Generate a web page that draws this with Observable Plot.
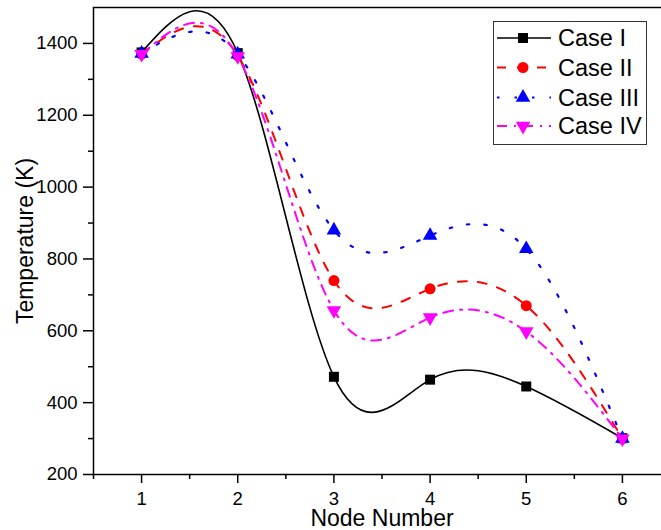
<!DOCTYPE html>
<html>
<head>
<meta charset="utf-8">
<script src="https://cdn.jsdelivr.net/npm/d3@7"></script>
<script src="https://cdn.jsdelivr.net/npm/@observablehq/plot@0.6"></script>
<style>
  html, body { margin: 0; padding: 0; background: white; overflow: hidden; }
  #wrap { position: relative; width: 661px; height: 530px; overflow: hidden; }
  #wrap > svg { max-width: none !important; }
  #legend { position: absolute; left: 493px; top: 21px; }
</style>
</head>
<body>
<div id="wrap"></div>
<script>
// ---- data ----
const nodes = [1, 2, 3, 4, 5, 6];
const caseI   = [1375, 1373, 472, 464, 445, 301];
const caseII  = [1370, 1366, 740, 717, 670, 300];
const caseIII = [1372, 1370, 880, 865, 828, 300];
const caseIV  = [1370, 1364, 657, 637, 598, 300];
const seriesNames = ["Case I", "Case II", "Case III", "Case IV"];
const yTicks = [200, 400, 600, 800, 1000, 1200, 1400];
const yMinor = [300, 500, 700, 900, 1100, 1300];
const xTicks = [1, 2, 3, 4, 5, 6];
const xMinor = [0.5, 1.5, 2.5, 3.5, 4.5, 5.5, 6.5];

const triangleDown = {
  draw(context, size) {
    const s3 = Math.sqrt(3);
    const y = -Math.sqrt(size / (s3 * 3));
    context.moveTo(0, -y * 2);
    context.lineTo(-s3 * y, y);
    context.lineTo(s3 * y, y);
    context.closePath();
  }
};

const styles = [
  {color: "#000000", dash: null,        width: 1.6, symbol: d3.symbolSquare,   r: 5.64},
  {color: "#FF0000", dash: "9,11",      width: 2,   symbol: d3.symbolCircle,   r: 5.5},
  {color: "#0000FF", dash: "2.5,15",    width: 2.2, symbol: d3.symbolTriangle, r: 5.4},
  {color: "#FF00FF", dash: "10,7,2,7",  width: 2,   symbol: triangleDown,      r: 5.4}
];
const allValues = [caseI, caseII, caseIII, caseIV];
const tables = allValues.map((vals, i) => nodes.map((n, j) => ({node: n, value: vals[j], series: seriesNames[i]})));

const font = "'Liberation Sans', Arial, sans-serif";

const seriesMarks = [];
tables.forEach((t, i) => {
  const s = styles[i];
  seriesMarks.push(Plot.line(t, {x: "node", y: "value", curve: "natural", stroke: s.color,
    strokeWidth: s.width, strokeDasharray: s.dash ?? undefined}));
  seriesMarks.push(Plot.dot(t, {x: "node", y: "value", symbol: s.symbol, r: s.r, fill: s.color, stroke: "none"}));
});

const chart = Plot.plot({
  width: 672,
  height: 530,
  marginLeft: 93,
  marginRight: 2,
  marginTop: 7,
  marginBottom: 56,
  x: {domain: [0.5, 6.5], label: null},
  y: {domain: [200, 1500], label: null},
  style: {fontFamily: font, background: "white", color: "black", overflow: "visible", maxWidth: "none"},
  marks: [
    Plot.axisY(yTicks, {tickSize: 10, tickPadding: 6, fontSize: 18.5, strokeWidth: 1.5, label: null, tickFormat: d => String(d)}),
    Plot.axisY(yMinor, {tickSize: 5, strokeWidth: 1.5, text: null, label: null}),
    Plot.axisX(xTicks, {tickSize: 9, tickPadding: 8.5, fontSize: 18.5, strokeWidth: 1.5, label: null, tickFormat: d => String(d)}),
    Plot.axisX(xMinor, {tickSize: 5, strokeWidth: 1.5, text: null, label: null}),
    Plot.frame({stroke: "black", strokeWidth: 1.5}),
    Plot.text(["Temperature (K)"], {frameAnchor: "left", rotate: -90, dx: -68, fontSize: 23, lineAnchor: "middle", textAnchor: "middle"}),
    Plot.text(["Node Number"], {frameAnchor: "bottom", dy: 44.5, fontSize: 23, lineAnchor: "middle", textAnchor: "middle"}),
    ...seriesMarks
  ]
});
document.getElementById("wrap").appendChild(chart);

// ---- legend ----
const lg = d3.select("#wrap").append("svg").attr("id", "legend").attr("width", 156).attr("height", 125);
lg.append("rect").attr("x", 0.5).attr("y", 0.5).attr("width", 153).attr("height", 123)
  .attr("fill", "white").attr("stroke", "#333").attr("stroke-width", 1);
const rowY = [17, 46.5, 76.5, 105];
seriesNames.forEach((name, i) => {
  const s = styles[i];
  const g = lg.append("g").attr("transform", `translate(0,${rowY[i]})`);
  g.append("line").attr("x1", 4).attr("x2", 58).attr("y1", 0).attr("y2", 0)
    .attr("stroke", s.color).attr("stroke-width", s.width)
    .attr("stroke-dasharray", s.dash);
  g.append("path").attr("transform", "translate(30,0)")
    .attr("d", d3.symbol(s.symbol, Math.PI * s.r * s.r)()).attr("fill", s.color);
  g.append("text").attr("x", 65).attr("y", 0).attr("dy", "0.36em")
    .attr("font-family", font).attr("font-size", 23.5).attr("fill", "black").text(name);
});
</script>
</body>
</html>
